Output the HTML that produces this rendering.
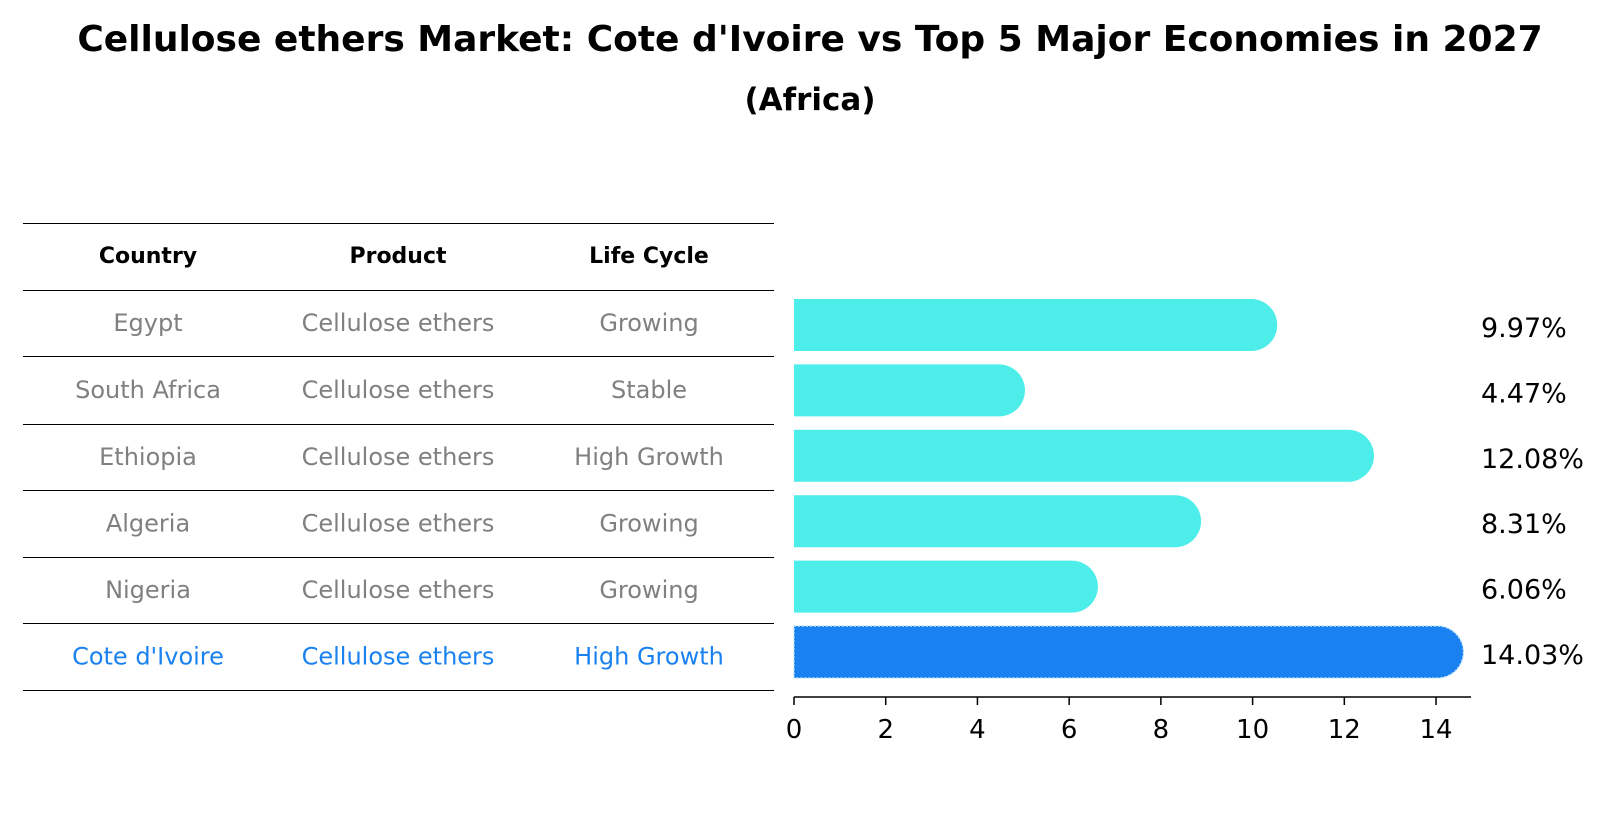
<!DOCTYPE html>
<html><head><meta charset="utf-8"><style>
body{margin:0;background:#fff;font-family:"Liberation Sans","DejaVu Sans",sans-serif}
</style></head><body>
<svg width="1620" height="823" xmlns="http://www.w3.org/2000/svg" font-family="DejaVu Sans, Liberation Sans, sans-serif" id="chart">
<text x="810" y="51" text-anchor="middle" font-size="36" font-weight="bold">Cellulose ethers Market: Cote d'Ivoire vs Top 5 Major Economies in 2027</text>
<text x="810" y="110" text-anchor="middle" font-size="31" font-weight="bold">(Africa)</text>
<g id="table"></g>
<g id="bars"></g>
</svg>
<script>
const countries=["Egypt","South Africa","Ethiopia","Algeria","Nigeria","Cote d'Ivoire"];
const products=["Cellulose ethers","Cellulose ethers","Cellulose ethers","Cellulose ethers","Cellulose ethers","Cellulose ethers"];
const lifeCycles=["Growing","Stable","High Growth","Growing","Growing","High Growth"];
const values=[9.97,4.47,12.08,8.31,6.06,14.03];
const ticks=[0,2,4,6,8,10,12,14];
const NS="http://www.w3.org/2000/svg";
const x0=794,unit=45.86,bh=52,cap=26;
const xs=v=>x0+v*unit;
const rowY=i=>325+i*65.4;
function mk(tag,attrs,parent,text){const e=document.createElementNS(NS,tag);for(const k in attrs)e.setAttribute(k,attrs[k]);if(text!==undefined)e.textContent=text;parent.appendChild(e);return e;}
const tb=document.getElementById('table');
const lines=[223,290,356,423.5,490,557,623,690];
lines.forEach(y=>{const l=mk('line',{x1:23,x2:774,y1:Math.round(y)+0.5,y2:Math.round(y)+0.5,stroke:'#000','stroke-width':1},tb);

});
const cx=[148,398,649];
["Country","Product","Life Cycle"].forEach((h,j)=>{const t=mk('text',{x:cx[j],y:263,'text-anchor':'middle','font-size':22,'font-weight':'bold'},tb,h);

});
countries.forEach((c,i)=>{
 const y=(lines[i+1]+lines[i+2])/2+8;
 const hl=i===countries.length-1;
 const col=hl?'#1a82f0':'#808080';
 [c,products[i],lifeCycles[i]].forEach((s,j)=>{const t=mk('text',{x:cx[j],y:y,'text-anchor':'middle','font-size':24,fill:col},tb,s);
 
 });
});
const bg=document.getElementById('bars');
values.forEach((v,i)=>{
 const cy=rowY(i),hl=i===values.length-1;
 const xe=xs(v);
 const d=`M${x0},${cy-bh/2} L${xe},${cy-bh/2} A${cap},${cap} 0 0 1 ${xe},${cy+bh/2} L${x0},${cy+bh/2} Z`;
 const p=mk('path',{d:d,fill:hl?'#1a82f0':'#4deeea'},bg);
 if(hl){p.setAttribute('stroke','#bfe0ff');p.setAttribute('stroke-dasharray','2,2');p.setAttribute('stroke-width','1.5');}
 
 
 const t=mk('text',{x:1481,y:cy+12,'font-size':27},bg,v.toFixed(2)+'%');
 
 
});
const ax=mk('line',{x1:x0,x2:1471,y1:697,y2:697,stroke:'#000','stroke-width':1.5},bg);


ticks.forEach(t=>{
 const tl=mk('line',{x1:xs(t),x2:xs(t),y1:697,y2:705,stroke:'#000','stroke-width':1.5},bg);
 
 
 const tx=mk('text',{x:xs(t),y:738,'text-anchor':'middle','font-size':26},bg,String(t));
 
 
});
</script>
</body></html>
